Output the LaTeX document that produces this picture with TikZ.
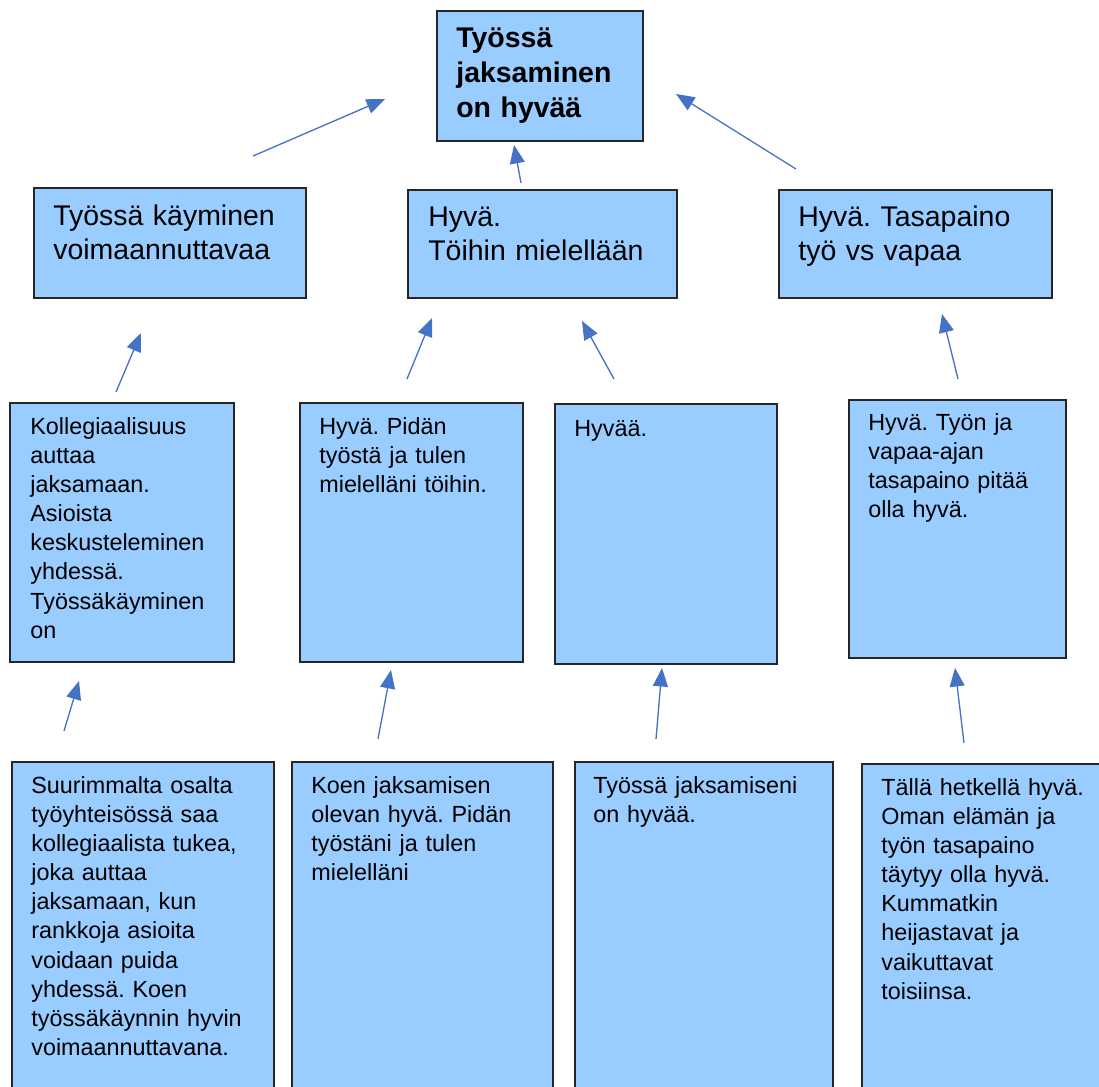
\documentclass[tikz,border=0pt]{standalone}
\usepackage{fontspec}
\setmainfont{Liberation Sans}
\usetikzlibrary{arrows.meta}
\definecolor{boxfill}{RGB}{153,204,255}
\definecolor{boxline}{RGB}{38,38,38}
\definecolor{arrowblue}{RGB}{68,114,196}
\frenchspacing

\begin{document}
\begin{tikzpicture}[x=0.02cm,y=-0.02cm,
  box/.style={draw=boxline, fill=boxfill, line width=0.9pt, inner sep=0pt, anchor=north west},
  txt/.style={inner sep=0pt, anchor=base west, align=left, text width=6cm},
  toptxt/.style={txt, font=\fontsize{16.2}{20.1}\selectfont\bfseries},
  midtxt/.style={txt, font=\fontsize{16.2}{19.6}\selectfont},
  lowtxt/.style={txt, font=\fontsize{13.3}{16.6}\selectfont},
  conn/.style={draw=arrowblue, line width=0.75pt, -{Triangle[length=10.5pt,width=8.5pt]}}
]
\useasboundingbox (0,0) rectangle (1099,1086);
\clip (0,0) rectangle (1099,1086);

% top box
\node[box, minimum width=4.12cm, minimum height=2.60cm] (top) at (436,10) {};
\node[toptxt] (toptext) at (456,47) {Työssä\\jaksaminen\\on hyvää};

% second row
\node[box, minimum width=5.44cm, minimum height=2.20cm] (a) at (33,187) {};
\node[midtxt] (atext) at (53,225) {Työssä käyminen\\voimaannuttavaa};
\node[box, minimum width=5.38cm, minimum height=2.16cm] (b) at (407,189) {};
\node[midtxt] (btext) at (428,226) {Hyvä.\\Töihin mielellään};
\node[box, minimum width=5.46cm, minimum height=2.16cm] (c) at (778,189) {};
\node[midtxt] (ctext) at (798,226) {Hyvä. Tasapaino\\työ vs vapaa};

% third row
\node[box, minimum width=4.48cm, minimum height=5.18cm] (d) at (9,402) {};
\node[lowtxt] (dtext) at (30,434) {Kollegiaalisuus\\auttaa\\jaksamaan.\\Asioista\\keskusteleminen\\yhdessä.\\Työssäkäyminen\\on};
\node[box, minimum width=4.46cm, minimum height=5.18cm] (e) at (299,402) {};
\node[lowtxt] (etext) at (319,434) {Hyvä. Pidän\\työstä ja tulen\\mielelläni töihin.};
\node[box, minimum width=4.44cm, minimum height=5.20cm] (f) at (554,403) {};
\node[lowtxt] (ftext) at (574,436) {Hyvää.};
\node[box, minimum width=4.34cm, minimum height=5.16cm] (g) at (848,399) {};
\node[lowtxt] (gtext) at (868,430) {Hyvä. Työn ja\\vapaa-ajan\\tasapaino pitää\\olla hyvä.};

% bottom row
\node[box, minimum width=5.24cm, minimum height=6.78cm] (h) at (11,761) {};
\node[lowtxt] (htext) at (31,793) {Suurimmalta osalta\\työyhteisössä saa\\kollegiaalista tukea,\\joka auttaa\\jaksamaan, kun\\rankkoja asioita\\voidaan puida\\yhdessä. Koen\\työssäkäynnin hyvin\\voimaannuttavana.};
\node[box, minimum width=5.22cm, minimum height=6.78cm] (i) at (291,761) {};
\node[lowtxt] (itext) at (311,793) {Koen jaksamisen\\olevan hyvä. Pidän\\työstäni ja tulen\\mielelläni};
\node[box, minimum width=5.16cm, minimum height=6.78cm] (j) at (574,761) {};
\node[lowtxt] (jtext) at (593,793) {Työssä jaksamiseni\\on hyvää.};
\node[box, minimum width=5.18cm, minimum height=6.74cm] (k) at (861,763) {};
\node[lowtxt] (ktext) at (881,795) {Tällä hetkellä hyvä.\\Oman elämän ja\\työn tasapaino\\täytyy olla hyvä.\\Kummatkin\\heijastavat ja\\vaikuttavat\\toisiinsa.};

% arrow ends
\coordinate (at) at (253,156);  \coordinate (ah) at (385,99);
\coordinate (bt) at (521,183);  \coordinate (bh) at (514,145);
\coordinate (ct) at (796,169);  \coordinate (ch) at (676,94);
\coordinate (dt) at (116,392);  \coordinate (dh) at (141,333);
\coordinate (et) at (407,379);  \coordinate (eh) at (432,318);
\coordinate (ft) at (614,379);  \coordinate (fh) at (582,321);
\coordinate (gt) at (958,379);  \coordinate (gh) at (942,314);
\coordinate (ht) at (64,731);   \coordinate (hh) at (79,681);
\coordinate (it) at (378,739);  \coordinate (ih) at (391,670);
\coordinate (jt) at (656,739);  \coordinate (jh) at (662,668);
\coordinate (kt) at (964,743);  \coordinate (kh) at (955,668);

% connectors
\foreach \n in {a,b,c,d,e,f,g,h,i,j,k}
  \draw[conn] (\n t) -- (\n h);
\end{tikzpicture}
\end{document}
